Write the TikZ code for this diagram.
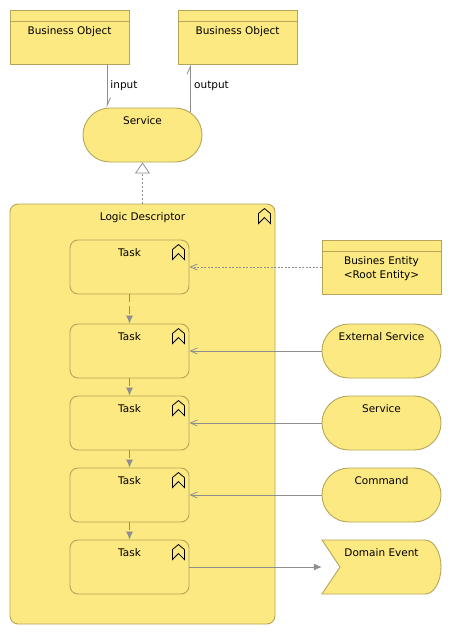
\documentclass[tikz,border=0pt]{standalone}
\usepackage{fontspec}
\setmainfont{DejaVu Sans}
\usetikzlibrary{arrows.meta}

\definecolor{archifill}{HTML}{FCE981}
\definecolor{archiline}{HTML}{B5A55A}
\definecolor{relline}{HTML}{8E8E8E}

\tikzset{
	archifont/.style={font=\fontsize{10.5}{13.7}\selectfont},
	element/.style={draw=archiline, fill=archifill, line width=0.9pt, inner sep=0pt, minimum width=119pt, text height=16pt, text depth=38pt, align=center, archifont},
	objectbox/.style={element, text height=24pt, text depth=30pt},
	servicebox/.style={element, rounded corners=26.9pt},
	taskbox/.style={element, rounded corners=8pt},
	rel/.style={draw=relline, line width=0.8pt},
	flowrel/.style={rel, -{Latex[length=8pt, width=7pt]}},
	accessrel/.style={rel, -{Straight Barb[left, length=8pt, width=7pt]}},
	servingrel/.style={rel, -{Straight Barb[length=7pt, width=6pt]}},
	chevron/.pic={
		\draw[black, line width=0.8pt, line join=miter] (0,5) -- (6,0) -- (12,5) -- (12,15) -- (6,9) -- (0,15) -- cycle;
	}
}

\begin{document}
\begin{tikzpicture}[x=1pt, y=-1pt]
	\useasboundingbox (0,0) rectangle (452,635);

	\node[objectbox] (inObject) at (69.5,37) {Business Object};
	\node[objectbox] (outObject) at (237.5,37) {Business Object};
	\node[servicebox] (mainService) at (142.5,135) {Service};

	\node[taskbox, text height=16pt, text depth=404pt, minimum width=265pt] (logic) at (142.5,414) {Logic Descriptor};
	\pic at ([xshift=-17pt, yshift=-5pt]logic.north east) {chevron};

	\foreach \n/\y in {1/267, 2/351, 3/423, 4/495, 5/567} {
		\node[taskbox] (task\n) at (129.5,\y) {Task};
		\pic at ([xshift=-17pt, yshift=-5pt]task\n.north east) {chevron};
	}

	\node[objectbox, text height=38pt, text depth=16pt] (entity) at (381.5,267) {Busines Entity\\<Root Entity>};
	\node[servicebox] (extService) at (381.5,351) {External Service};
	\node[servicebox] (service) at (381.5,423) {Service};
	\node[servicebox] (command) at (381.5,495) {Command};

	\draw[draw=archiline, fill=archifill, line width=0.9pt] (322,540) -- (425,540) arc[start angle=-90, end angle=90, x radius=16, y radius=27] -- (322,594) -- (340,567) -- cycle;
	\node[inner sep=0pt, minimum width=119pt, text height=16pt, text depth=38pt, archifont] (event) at (381.5,567) {Domain Event};

	\foreach \n in {inObject, outObject, entity}
		\draw[archiline, line width=0.9pt] ([yshift=-12pt]\n.north west) -- ([yshift=-12pt]\n.north east);

	% relations
	\draw[accessrel] ([xshift=37.5pt]inObject.south) -- ([xshift=-35.5pt]mainService.north);
	\draw[accessrel] ([xshift=48pt, yshift=-4pt]mainService.north) -- ([xshift=-47pt]outObject.south);
	\node[archifont, inner sep=0pt] (inLabel) at (124,85.5) {input};
	\node[archifont, inner sep=0pt] (outLabel) at (211.5,85.5) {output};
	\draw[rel, dash pattern=on 2pt off 2pt, -{Triangle[open, fill=white, length=11pt, width=15pt]}] (logic.north) -- (mainService.south);

	\draw[servingrel, dash pattern=on 2pt off 1.5pt] (entity.west) -- (task1.east);
	\draw[servingrel] (extService.west) -- (task2.east);
	\draw[servingrel] (service.west) -- (task3.east);
	\draw[servingrel] (command.west) -- (task4.east);
	\draw[flowrel] (task5.east) -- (event.west);

	\foreach \a/\b in {1/2, 2/3, 3/4, 4/5}
		\draw[flowrel, dash pattern=on 8pt off 4pt] (task\a.south) -- (task\b.north);
\end{tikzpicture}
\end{document}
